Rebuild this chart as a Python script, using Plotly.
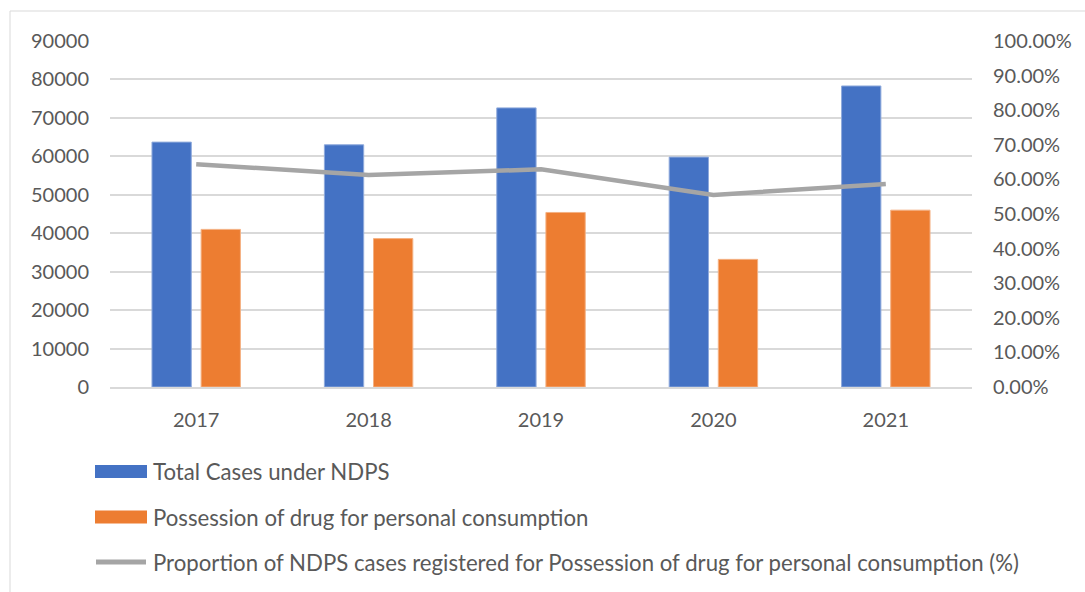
import plotly.graph_objects as go

years = ["2017", "2018", "2019", "2020", "2021"]
total_cases = [63700, 63000, 72600, 59800, 78300]
possession = [41000, 38600, 45400, 33200, 46000]
proportion = [0.644, 0.613, 0.629, 0.555, 0.587]

left_ticks = [0, 10000, 20000, 30000, 40000, 50000, 60000, 70000, 80000, 90000]
right_ticks = [i / 10 for i in range(11)]
right_labels = [f"{v*100:.2f}%" for v in right_ticks]

legend_names = [
    "Total Cases under NDPS",
    "Possession of drug for personal consumption",
    "Proportion of NDPS cases registered for Possession of drug for personal consumption (%)",
]

BLUE = "#4472C4"
ORANGE = "#ED7D31"
GRAY = "#A5A5A5"
TXT = "#595959"
FONT = "Lato"
FS = 20
LFS = 22.2

fig = go.Figure()
fig.add_trace(go.Bar(x=years, y=total_cases, name=legend_names[0], marker_color=BLUE,
                     marker_line=dict(color="#8FAADC", width=1), showlegend=False))
fig.add_trace(go.Bar(x=years, y=possession, name=legend_names[1], marker_color=ORANGE,
                     marker_line=dict(color="#F4B183", width=1), showlegend=False))
fig.add_trace(go.Scatter(x=years, y=proportion, name=legend_names[2], yaxis="y2", mode="lines",
                         line=dict(color=GRAY, width=4.5), showlegend=False))

W, H = 1085, 592
L, R, T, B = 110, 113, 41, 205
pw, ph = W - L - R, H - T - B

def px(x):
    return (x - L) / pw

def py(y):
    return (H - B - y) / ph

shapes = [
    dict(type="rect", xref="paper", yref="paper", x0=px(10), x1=px(1095), y0=py(11), y1=py(600),
         line=dict(color="#D9D9D9", width=1), fillcolor="rgba(0,0,0,0)", layer="below"),
]
annotations = []
legend_rows = [471.5, 517, 562]
for i, (name, yc) in enumerate(zip(legend_names, legend_rows)):
    if i < 2:
        shapes.append(dict(type="rect", xref="paper", yref="paper", x0=px(95), x1=px(147),
                           y0=py(yc - 6.5), y1=py(yc + 6.5),
                           fillcolor=[BLUE, ORANGE][i], line=dict(width=0)))
    else:
        shapes.append(dict(type="line", xref="paper", yref="paper", x0=px(96), x1=px(146),
                           y0=py(yc), y1=py(yc), line=dict(color=GRAY, width=5)))
    annotations.append(dict(xref="paper", yref="paper", x=px(151), y=py(yc), text=name,
                            showarrow=False, xanchor="left", yanchor="middle",
                            font=dict(family=FONT, size=LFS, color=TXT)))

fig.update_layout(
    width=W, height=H,
    margin=dict(l=L, r=R, t=T, b=B),
    paper_bgcolor="white", plot_bgcolor="white",
    barmode="group", bargap=0.43, bargroupgap=0.2,
    font=dict(family=FONT, size=FS, color=TXT),
    xaxis=dict(showgrid=False, showline=True, linecolor="#D9D9D9", linewidth=1.5,
               ticks="", ticklabelstandoff=14, tickfont=dict(family=FONT, size=FS, color=TXT)),
    yaxis=dict(range=[0, 90000], tickvals=left_ticks, ticktext=[str(v) for v in left_ticks],
               showgrid=True, gridcolor="#D9D9D9", gridwidth=1.5, zeroline=False,
               ticks="", ticklabelstandoff=20, tickfont=dict(family=FONT, size=FS, color=TXT)),
    yaxis2=dict(range=[0, 1.0], overlaying="y", side="right", tickvals=right_ticks,
                ticktext=right_labels, showgrid=False, zeroline=False,
                ticks="", ticklabelstandoff=20, tickfont=dict(family=FONT, size=FS, color=TXT)),
    shapes=shapes, annotations=annotations,
)

fig.write_html("out.html")
